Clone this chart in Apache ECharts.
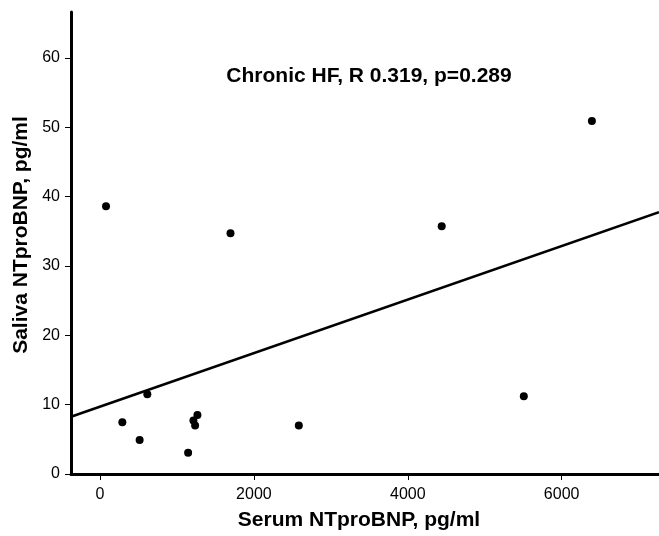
<!DOCTYPE html>
<html>
<head>
<meta charset="utf-8">
<script src="https://cdn.jsdelivr.net/npm/echarts@6/dist/echarts.min.js"></script>
<style>html,body{margin:0;padding:0;background:#fff}#c{width:659px;height:536px}</style>
</head>
<body>
<div id="c"></div>
<script>
// Serum NTproBNP (pg/ml)
var serum = [78, 1696, 6393, 4441, 5508, 290, 515, 615, 1145, 1214, 1236, 1266, 2584];
// Saliva NTproBNP (pg/ml)
var saliva = [38.6, 34.7, 50.9, 35.7, 11.2, 7.45, 4.9, 11.5, 3.07, 7.7, 7.0, 8.5, 7.0];
// Fit line endpoints [x, y]
var fitX = [-377, 7265];
var fitY = [8.26, 37.75];
var xTicks = [0, 2000, 4000, 6000];
var yTicks = [0, 10, 20, 30, 40, 50, 60];
var annotation = 'Chronic HF, R 0.319, p=0.289';

var pts = serum.map(function (x, i) { return [x, saliva[i]]; });
var fit = fitX.map(function (x, i) { return [x, fitY[i]]; });

var font = 'Liberation Sans, Arial, sans-serif';
var chart = echarts.init(document.getElementById('c'));
chart.setOption({
  animation: false,
  grid: { left: 71, top: 12, right: 0, bottom: 62, containLabel: false },
  title: {
    text: annotation, left: 364, top: 61, textAlign: 'center',
    textStyle: { fontFamily: font, fontSize: 21, fontWeight: 'bold', color: '#000' }
  },
  xAxis: {
    type: 'value', min: -377, max: 7265,
    splitLine: { show: false },
    axisLine: { onZero: false, lineStyle: { color: '#000', width: 3 } },
    axisTick: { show: true, length: 6, lineStyle: { color: '#000', width: 1 }, customValues: xTicks },
    axisLabel: { customValues: xTicks, fontFamily: font, fontSize: 16, color: '#000', margin: 13,
      formatter: function (v) { return String(v); } },
    name: 'Serum NTproBNP, pg/ml', nameLocation: 'middle', nameGap: 36,
    nameTextStyle: { fontFamily: font, fontSize: 21, fontWeight: 'bold', color: '#000', padding: [0, 12, 0, 0] }
  },
  yAxis: {
    type: 'value', min: 0, max: 66.6,
    splitLine: { show: false },
    axisLine: { onZero: false, lineStyle: { color: '#000', width: 3 } },
    axisTick: { show: true, length: 6, lineStyle: { color: '#000', width: 1 }, customValues: yTicks },
    axisLabel: { customValues: yTicks, fontFamily: font, fontSize: 16, color: '#000', margin: 11,
      formatter: function (v) { return String(v); } },
    name: 'Saliva NTproBNP, pg/ml', nameLocation: 'middle', nameGap: 32,
    nameTextStyle: { fontFamily: font, fontSize: 21, fontWeight: 'bold', color: '#000', padding: [0, 0, 0, 16] }
  },
  series: [
    {
      type: 'line', data: fit, symbol: 'none', silent: true,
      lineStyle: { color: '#000', width: 2.5 }
    },
    {
      type: 'scatter', data: pts, symbol: 'circle', symbolSize: 8,
      itemStyle: { color: '#000', opacity: 1 }
    }
  ]
});
</script>
</body>
</html>
